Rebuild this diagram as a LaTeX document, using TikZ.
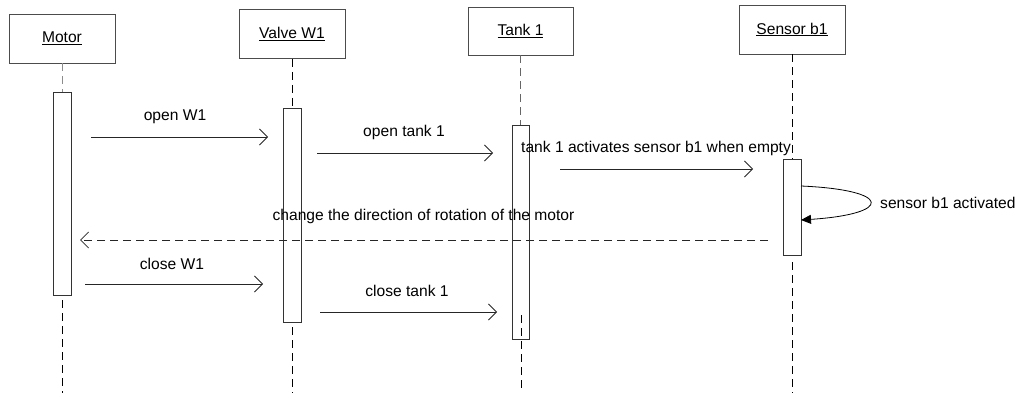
\documentclass[tikz,border=0pt]{standalone}
\usepackage{fontspec}
\setmainfont{Liberation Sans}
\usetikzlibrary{arrows.meta}
\begin{document}
\begin{tikzpicture}[x=1pt,y=-1pt,
  font=\fontsize{15.6}{18}\selectfont,
  objbox/.style={draw=black!70, line width=0.8pt, minimum width=106pt, minimum height=49pt, inner sep=0pt},
  actbar/.style={draw=black!80, line width=0.8pt, fill=white, minimum width=18pt, inner sep=0pt},
  lifeline/.style={draw=black, line width=0.9pt, dash pattern=on 8pt off 5pt},
  msg/.style={draw=black!85, line width=0.8pt, -{Straight Barb[length=8pt,width=16pt]}},
  retmsg/.style={draw=black!85, line width=0.8pt, dash pattern=on 8pt off 5pt, -{Straight Barb[length=8pt,width=16pt]}},
  selfmsg/.style={draw=black, line width=0.8pt, -{Triangle[length=10pt,width=9pt]}},
  lbl/.style={inner sep=0pt}
]
\useasboundingbox (0,0) rectangle (1021,393);

% objects
\node[objbox] (motor) at (62,38.5) {\underline{Motor}};
\node[objbox] (valve) at (292,34) {\underline{Valve W1}};
\node[objbox, minimum width=105pt, minimum height=48pt] (tank) at (520.5,31) {\underline{Tank 1}};
\node[objbox] (sensor) at (792,29.5) {\underline{Sensor b1}};

% lifeline anchors
\coordinate (motorLo) at (62,300);
\coordinate (motorEnd) at (62,393);
\coordinate (valveLo) at (292,327);
\coordinate (valveEnd) at (292,393);
\coordinate (tankLo) at (521,315);
\coordinate (tankEnd) at (521,393);
\coordinate (sensorLo) at (792,262);
\coordinate (sensorEnd) at (792,393);

% activation bars
\node[actbar, minimum height=203pt] (motorAct) at (62,193.5) {};
\node[actbar, minimum height=214pt] (valveAct) at (292,215) {};
\node[actbar, minimum width=17pt, minimum height=214pt] (tankAct) at (520.5,232) {};
\node[actbar, minimum height=96pt] (sensorAct) at (792,207) {};

% upper lifelines
\draw[lifeline, draw=black!45, line width=0.7pt] (motor.south) -- (motorAct.north);
\draw[lifeline] (valve.south) -- (valveAct.north);
\draw[lifeline, draw=black!60, line width=0.7pt] (tank.south) -- (tankAct.north);
\draw[lifeline] (sensor.south) -- (sensorAct.north);

% lower lifelines
\draw[lifeline] (motorLo) -- (motorEnd);
\draw[lifeline] (valveLo) -- (valveEnd);
\draw[lifeline] (tankLo) -- (tankEnd);
\draw[lifeline] (sensorLo) -- (sensorEnd);

% messages
\coordinate (m1s) at (91,137);   \coordinate (m1e) at (268,137);
\coordinate (m2s) at (317,153);  \coordinate (m2e) at (493,153);
\coordinate (m3s) at (560,169);  \coordinate (m3e) at (753,169);
\coordinate (m4s) at (801,186);  \coordinate (m4e) at (801,220);
\coordinate (m5s) at (768,240);  \coordinate (m5e) at (80,240);
\coordinate (m6s) at (85,284);   \coordinate (m6e) at (263,284);
\coordinate (m7s) at (320,312);  \coordinate (m7e) at (497,312);

\draw[msg] (m1s) -- (m1e);
\draw[msg] (m2s) -- (m2e);
\draw[msg] (m3s) -- (m3e);
\draw[selfmsg] (m4s) .. controls (893,190) and (893,214) .. (m4e);
\draw[retmsg] (m5s) -- (m5e);
\draw[msg] (m6s) -- (m6e);
\draw[msg] (m7s) -- (m7e);

% labels
\node[lbl] (l1) at (175,117) {open W1};
\node[lbl] (l2) at (404,132) {open tank 1};
\node[lbl, anchor=west] (l3) at (521,148) {tank 1 activates sensor b1 when empty};
\node[lbl, anchor=west] (l4) at (880,203) {sensor b1 activated};
\node[lbl] (l5) at (423.5,216) {change the direction of rotation of the motor};
\node[lbl] (l6) at (172,264) {close W1};
\node[lbl] (l7) at (407,291) {close tank 1};
\end{tikzpicture}
\end{document}
